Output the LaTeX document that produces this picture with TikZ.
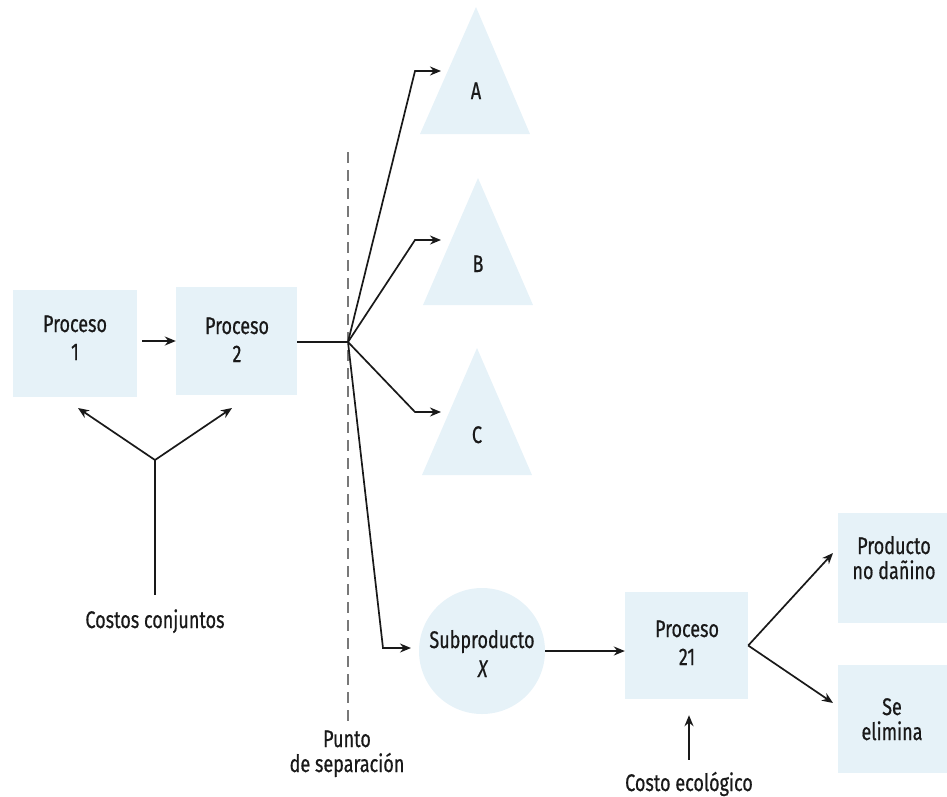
\documentclass[tikz,border=0pt]{standalone}
\usepackage{fontspec}
\setmainfont{Fira Sans}[FakeStretch=0.75, FakeBold=0.6]
\usetikzlibrary{arrows.meta}
\definecolor{boxfill}{RGB}{230,242,248}
\definecolor{ink}{RGB}{25,25,25}
\definecolor{dashgray}{RGB}{120,120,120}

\begin{document}
\begin{tikzpicture}[x=1pt,y=-1pt,
  box/.style={fill=boxfill, inner sep=0pt},
  lbl/.style={text=ink, font=\fontsize{24}{27}\selectfont, inner sep=0pt,
              anchor=base, text height=17pt, text depth=5pt},
  link/.style={draw=ink, line width=1.7pt},
  arr/.style={link, -{Stealth[length=11pt,width=9pt]}},
]
\useasboundingbox (0,0) rectangle (947,796);

% ---- shaded shapes ----
\node[box, minimum width=124pt, minimum height=107pt] (p1) at (75,343.5) {};
\node[box, minimum width=121pt, minimum height=108pt] (p2) at (236.5,341) {};
\node[box, minimum width=123pt, minimum height=107pt] (p21) at (686.5,645.5) {};
\node[box, minimum width=110pt, minimum height=110pt] (prod) at (892.5,568) {};
\node[box, minimum width=109pt, minimum height=108pt] (elim) at (892,719) {};
\node[box, circle, minimum size=126pt] (sub) at (482,651) {};

\fill[boxfill] (420,134) -- (476,7) -- (530,134) -- cycle;
\fill[boxfill] (423,305) -- (478,178) -- (533,305) -- cycle;
\fill[boxfill] (422,475) -- (477,348) -- (532,475) -- cycle;

% ---- texts ----
\node[lbl] (p1a) at (75,332) {Proceso};
\node[lbl] (p1b) at (75,360) {1};
\node[lbl] (p2a) at (237,334) {Proceso};
\node[lbl] (p2b) at (237,362) {2};
\node[lbl] (tA) at (476,99) {A};
\node[lbl] (tB) at (478,272) {B};
\node[lbl] (tC) at (477,443) {C};
\node[lbl] (suba) at (482,648) {Subproducto};
\node[lbl] (subb) at (483,677) {\textit{X}};
\node[lbl] (p21a) at (687,637) {Proceso};
\node[lbl] (p21b) at (687,665) {21};
\node[lbl] (proda) at (894,554) {Producto};
\node[lbl] (prodb) at (894,579) {no dañino};
\node[lbl] (elima) at (892,715) {Se};
\node[lbl] (elimb) at (892,740) {elimina};
\node[lbl] (ccj) at (155,628) {Costos conjuntos};
\node[lbl] (pto1) at (347,747) {Punto};
\node[lbl] (pto2) at (347,772) {de separación};
\node[lbl] (ceco) at (689,791) {Costo ecológico};

% ---- split-off line ----
\draw[dashgray, line width=2.2pt, dash pattern=on 11pt off 7pt] (348,152) -- (348,723);

% ---- connectors ----
\coordinate (J) at (348,342);
\coordinate (kA) at (415,71);  \coordinate (hA) at (441,71);
\coordinate (kB) at (415,240); \coordinate (hB) at (441,240);
\coordinate (kC) at (415,412); \coordinate (hC) at (441,412);
\coordinate (kS) at (383,648); \coordinate (hS) at (411,648);
\coordinate (Y) at (155,460);
\coordinate (hL) at (78,408);  \coordinate (hR) at (232,408);
\coordinate (hP) at (833,553); \coordinate (hE) at (833,703);

\draw[arr] (p1.east |- p2.west) ++(5pt,0) -- (p2.west);
\draw[link] (p2.east |- J) -- (J);
\draw[arr] (J) -- (kA) -- (hA);
\draw[arr] (J) -- (kB) -- (hB);
\draw[arr] (J) -- (kC) -- (hC);
\draw[arr] (J) -- (kS) -- (hS);
\draw[arr] (sub.east) -- (p21.west |- sub.east);
\draw[arr, shorten <=14pt, shorten >=16pt] (ceco.north) -- (ceco.north |- p21.south);
\draw[arr] (p21.east) -- (hP);
\draw[arr] (p21.east) -- (hE);

\draw[link, shorten <=16pt] (ccj.north) -- (Y);
\draw[arr] (Y) -- (hL);
\draw[arr] (Y) -- (hR);
\end{tikzpicture}
\end{document}
